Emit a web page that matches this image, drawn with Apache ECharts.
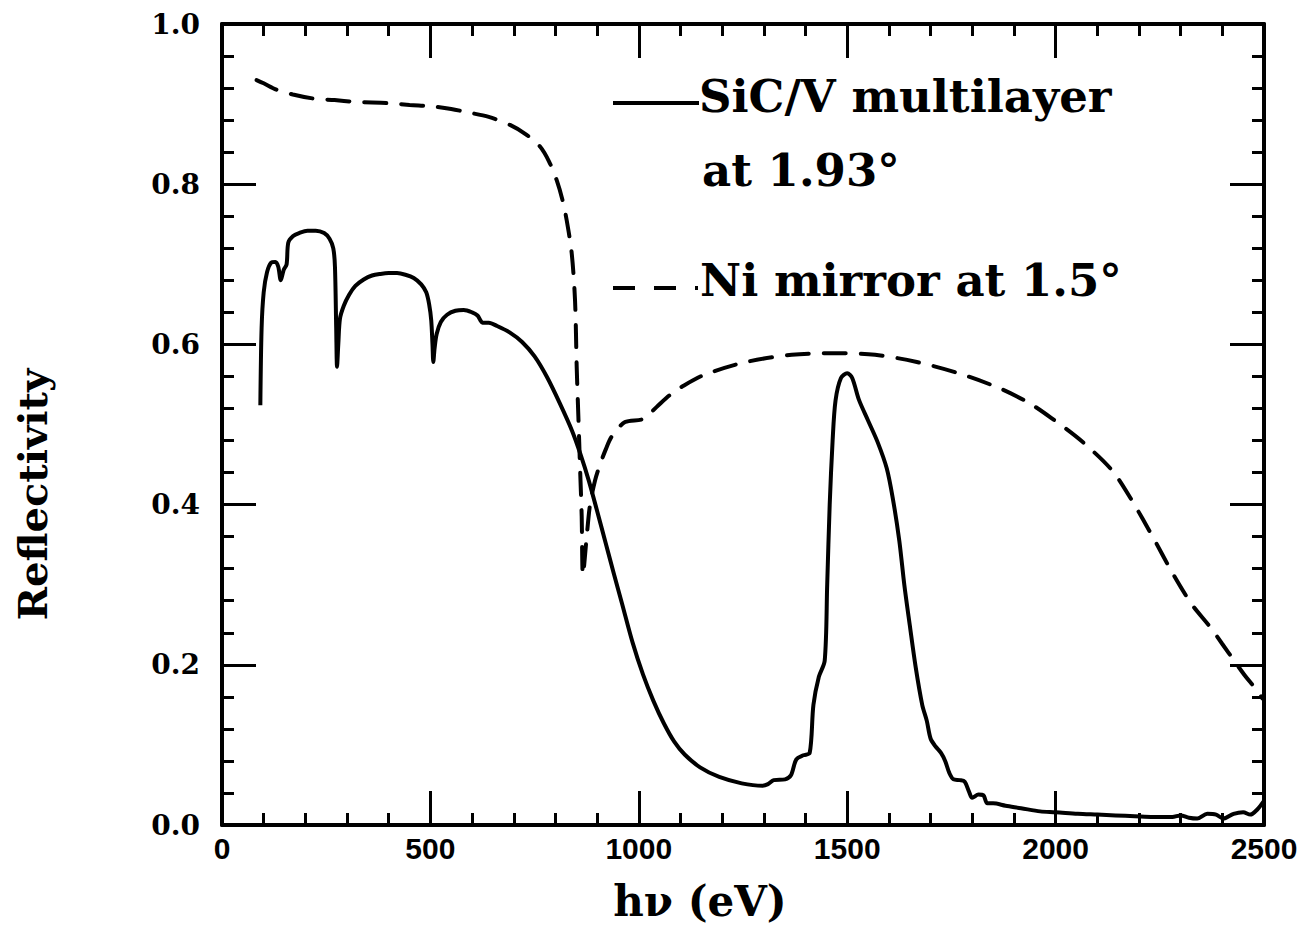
<!DOCTYPE html>
<html>
<head>
<meta charset="utf-8">
<title>Reflectivity vs photon energy</title>
<script src="https://cdn.jsdelivr.net/npm/echarts@6/dist/echarts.min.js"></script>
<style>
  html, body { margin: 0; padding: 0; background: #fff; }
  #chart { width: 1301px; height: 933px; }
</style>
</head>
<body>
<div id="chart"></div>
<script>
// SiC/V multilayer at 1.93 deg (solid)
const sicEnergy = [92, 95, 100, 108, 118, 128, 135, 141, 148, 155, 159, 170, 185, 205, 225, 245, 258, 267, 271, 274, 276, 279, 283, 292, 305, 320, 340, 360, 380, 400, 420, 440, 460, 478, 490, 497, 502, 505, 507, 510, 515, 525, 540, 560, 580, 600, 613, 620, 625, 640, 660, 690, 720, 750, 780, 810, 840, 860, 880, 900, 920, 940, 960, 985, 1010, 1035, 1060, 1085, 1110, 1147, 1193, 1247, 1297, 1310, 1324, 1351, 1365, 1378, 1395, 1410, 1419, 1432, 1446, 1452, 1458, 1465, 1472, 1485, 1500, 1512, 1528, 1550, 1573, 1595, 1610, 1625, 1637, 1650, 1664, 1680, 1691, 1700, 1712, 1725, 1735, 1745, 1755, 1770, 1782, 1792, 1800, 1815, 1827, 1836, 1850, 1880, 1917, 1963, 2000, 2053, 2100, 2144, 2190, 2234, 2280, 2300, 2320, 2340, 2364, 2385, 2402, 2427, 2450, 2467, 2485, 2500];
const sicRefl = [0.524, 0.62, 0.665, 0.69, 0.702, 0.703, 0.697, 0.68, 0.693, 0.70, 0.727, 0.735, 0.739, 0.742, 0.742, 0.739, 0.732, 0.72, 0.697, 0.62, 0.572, 0.60, 0.632, 0.648, 0.662, 0.673, 0.681, 0.686, 0.688, 0.689, 0.689, 0.687, 0.683, 0.675, 0.665, 0.65, 0.63, 0.60, 0.578, 0.595, 0.613, 0.628, 0.637, 0.642, 0.643, 0.64, 0.636, 0.63, 0.627, 0.627, 0.623, 0.615, 0.603, 0.585, 0.559, 0.527, 0.492, 0.463, 0.43, 0.392, 0.353, 0.314, 0.276, 0.228, 0.188, 0.155, 0.127, 0.104, 0.088, 0.072, 0.06, 0.052, 0.049, 0.051, 0.056, 0.057, 0.062, 0.082, 0.087, 0.09, 0.15, 0.185, 0.205, 0.30, 0.40, 0.48, 0.53, 0.558, 0.564, 0.558, 0.531, 0.505, 0.478, 0.445, 0.406, 0.355, 0.30, 0.25, 0.198, 0.15, 0.13, 0.108, 0.098, 0.09, 0.08, 0.065, 0.057, 0.056, 0.054, 0.042, 0.034, 0.038, 0.037, 0.027, 0.027, 0.024, 0.021, 0.017, 0.016, 0.014, 0.013, 0.012, 0.011, 0.010, 0.010, 0.012, 0.009, 0.008, 0.014, 0.013, 0.008, 0.014, 0.016, 0.013, 0.02, 0.03];

// Ni mirror at 1.5 deg (dashed)
const niEnergy = [83, 100, 131, 170, 219, 270, 315, 360, 403, 450, 507, 550, 587, 640, 691, 730, 763, 785, 803, 817, 827, 839, 847, 851, 855, 859, 863, 866, 875, 883, 895, 905, 920, 935, 967, 1011, 1043, 1075, 1106, 1157, 1257, 1367, 1466, 1567, 1667, 1767, 1867, 1936, 1990, 2063, 2135, 2181, 2235, 2280, 2326, 2371, 2400, 2430, 2455, 2480, 2496];
const niRefl = [0.930, 0.926, 0.918, 0.912, 0.907, 0.905, 0.903, 0.902, 0.901, 0.899, 0.897, 0.894, 0.89, 0.884, 0.874, 0.862, 0.847, 0.828, 0.805, 0.78, 0.755, 0.714, 0.655, 0.572, 0.51, 0.447, 0.385, 0.312, 0.36, 0.40, 0.43, 0.447, 0.468, 0.485, 0.503, 0.507, 0.522, 0.537, 0.548, 0.562, 0.578, 0.587, 0.589, 0.587, 0.578, 0.564, 0.545, 0.527, 0.508, 0.479, 0.443, 0.407, 0.358, 0.315, 0.276, 0.247, 0.226, 0.204, 0.186, 0.17, 0.158];

const xTicks = [0, 500, 1000, 1500, 2000, 2500];
const yTicks = [0.0, 0.2, 0.4, 0.6, 0.8, 1.0];

const pairs = (xs, ys) => xs.map((x, i) => [x, ys[i]]);

const serif = '"DejaVu Serif", serif';
const ink = '#000';

const chart = echarts.init(document.getElementById('chart'), null, { renderer: 'svg' });

const frameAxis = (extra) => Object.assign({
  type: 'value',
  axisLine: { show: true, onZero: false, lineStyle: { color: ink, width: 4 } },
  axisTick: { show: true, inside: true, length: 34, lineStyle: { color: ink, width: 3 } },
  minorTick: { show: true, splitNumber: 5, length: 12, lineStyle: { color: ink, width: 3 } },
  splitLine: { show: false },
  minorSplitLine: { show: false }
}, extra);

const xBase = {
  min: xTicks[0],
  max: xTicks[xTicks.length - 1],
  interval: xTicks[1] - xTicks[0]
};
const yBase = {
  min: yTicks[0],
  max: yTicks[yTicks.length - 1],
  interval: yTicks[1] - yTicks[0]
};

chart.setOption({
  backgroundColor: '#fff',
  animation: false,
  grid: { left: 222, right: 37, top: 24, bottom: 108, containLabel: false, outerBoundsMode: 'none' },
  xAxis: [
    frameAxis(Object.assign({}, xBase, {
      position: 'bottom',
      name: 'h\u03bd (eV)',
      nameLocation: 'middle',
      nameGap: 55,
      nameTextStyle: { fontFamily: serif, fontWeight: 'bold', fontSize: 42, color: ink, padding: [0, 86, 0, 0] },
      axisLabel: {
        show: true, margin: 8, color: ink,
        fontFamily: '"Liberation Sans", Arial, sans-serif',
        fontWeight: 'bold', fontSize: 30,
        formatter: (v) => String(v)
      }
    })),
    frameAxis(Object.assign({}, xBase, { position: 'top', axisLabel: { show: false } }))
  ],
  yAxis: [
    frameAxis(Object.assign({}, yBase, {
      position: 'left',
      name: 'Reflectivity',
      nameLocation: 'middle',
      nameRotate: 90,
      nameGap: 170,
      nameTextStyle: { fontFamily: serif, fontWeight: 'bold', fontSize: 40, color: ink, padding: [0, 140, 0, 0] },
      axisLabel: {
        show: true, margin: 22, color: ink,
        fontFamily: serif, fontWeight: 'bold', fontSize: 28,
        formatter: (v) => v.toFixed(1)
      }
    })),
    frameAxis(Object.assign({}, yBase, { position: 'right', axisLabel: { show: false } }))
  ],
  series: [
    {
      name: 'SiC/V multilayer at 1.93\u00b0',
      type: 'line',
      data: pairs(sicEnergy, sicRefl),
      showSymbol: false,
      smooth: 0.3,
      lineStyle: { color: ink, width: 4, join: 'round' },
      z: 3
    },
    {
      name: 'Ni mirror at 1.5\u00b0',
      type: 'line',
      data: pairs(niEnergy, niRefl),
      showSymbol: false,
      smooth: 0.3,
      lineStyle: { color: ink, width: 4, type: [22, 15], cap: 'round' },
      z: 2
    }
  ],
  graphic: [
    { type: 'line', shape: { x1: 613, y1: 103, x2: 699, y2: 103 }, style: { stroke: ink, lineWidth: 4 } },
    { type: 'text', left: 699, top: 74, style: { text: 'SiC/V multilayer', font: 'bold 45px ' + serif, fill: ink } },
    { type: 'text', left: 702, top: 148, style: { text: 'at 1.93\u00b0', font: 'bold 45px ' + serif, fill: ink } },
    { type: 'line', shape: { x1: 613, y1: 288, x2: 698, y2: 288 }, style: { stroke: ink, lineWidth: 4, lineDash: [22, 19] } },
    { type: 'text', left: 700, top: 258, style: { text: 'Ni mirror at 1.5\u00b0', font: 'bold 45px ' + serif, fill: ink } }
  ]
});
</script>
</body>
</html>
